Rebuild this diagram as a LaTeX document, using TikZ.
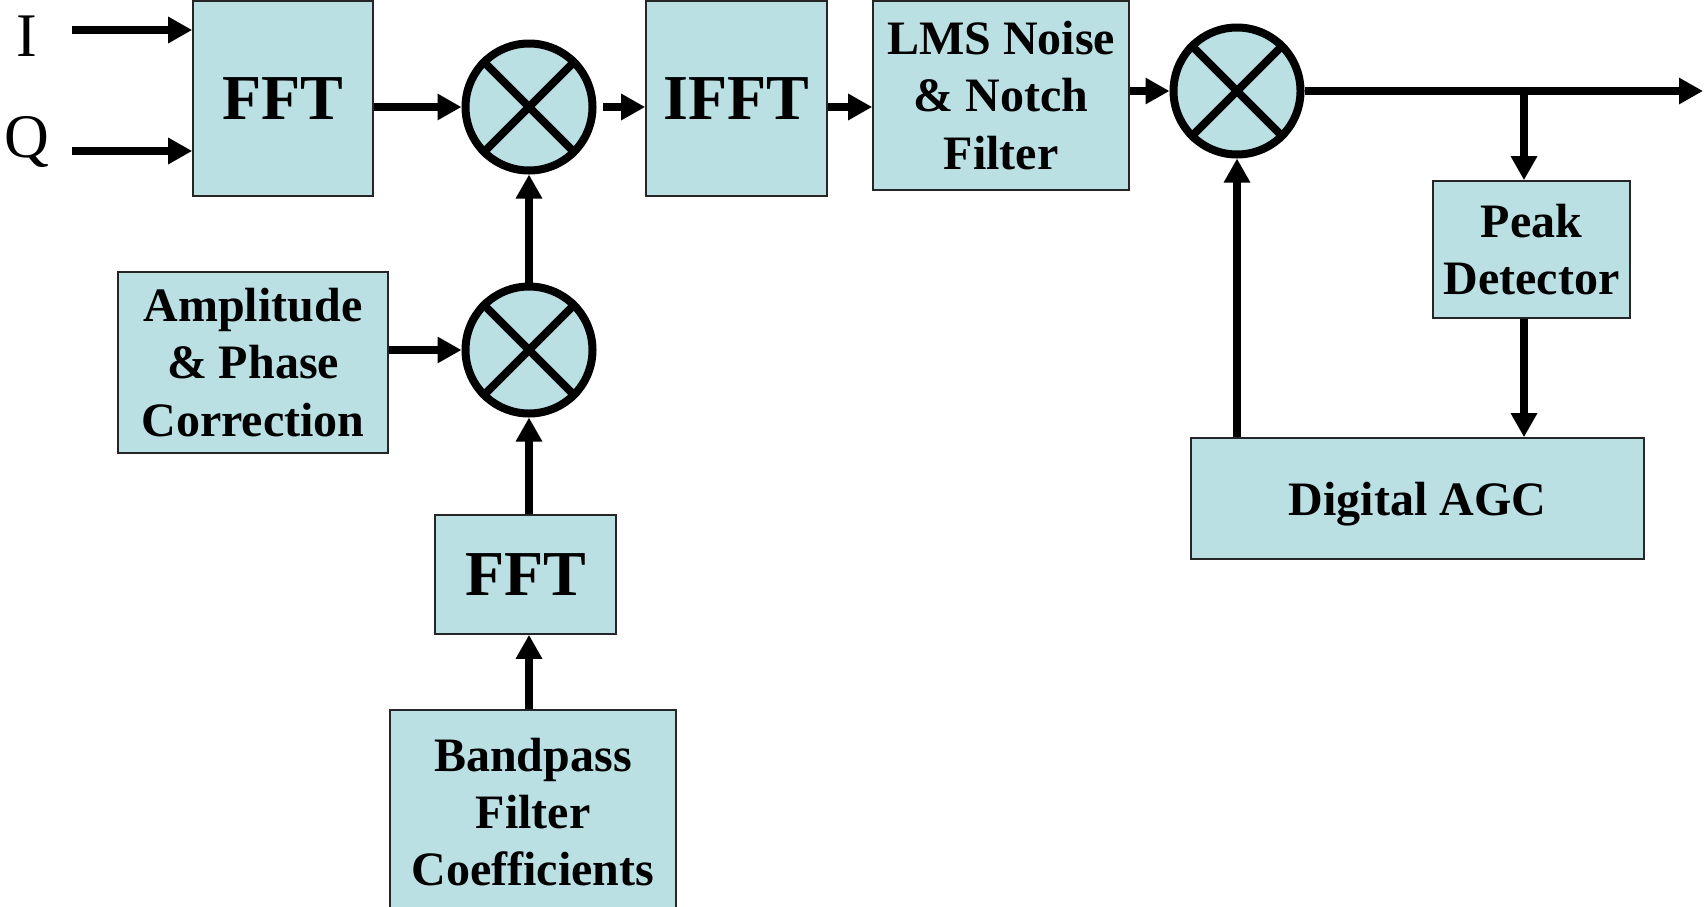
\documentclass[tikz,border=0pt]{standalone}
\usepackage{fontspec}
\setmainfont{Liberation Serif}
\usetikzlibrary{arrows.meta}
\definecolor{boxfill}{RGB}{186,224,228}
\begin{document}
\begin{tikzpicture}[x=0.5pt,y=-0.5pt,
  blk/.style={draw=black!85, line width=0.8pt, fill=boxfill, inner sep=0pt,
    align=center, font=\fontsize{24}{28.6}\selectfont\bfseries},
  bigtext/.style={font=\fontsize{32}{38}\selectfont\bfseries},
  mix/.style={circle, draw=black, line width=4pt, fill=boxfill,
    minimum size=63.5pt, inner sep=0pt},
  flow/.style={line width=4pt, -{Triangle[length=12pt,width=12.5pt]}},
  xline/.style={line width=4pt},
  iolabel/.style={font=\fontsize{31}{34}\selectfont, anchor=base}
]
\useasboundingbox (0,0) rectangle (1706,906);

% processing blocks
\node[blk, bigtext, minimum width=90pt, minimum height=97.5pt] (fft1) at (283,98.5) {FFT};
\node[blk, bigtext, minimum width=90.5pt, minimum height=97.5pt] (ifft) at (736.5,98.5) {IFFT};
\node[blk, minimum width=128pt, minimum height=94.5pt] (lms) at (1001,95.5) {LMS Noise\\\& Notch\\Filter};
\node[blk, minimum width=98.5pt, minimum height=68.5pt] (peak) at (1531.5,249.5) {Peak\\Detector};
\node[blk, minimum width=226.5pt, minimum height=60.5pt, text depth=0pt] (agc) at (1417.5,498.5) {Digital AGC};
\node[blk, minimum width=135pt, minimum height=90.5pt] (amp) at (253,362.5) {Amplitude\\\& Phase\\Correction};
\node[blk, bigtext, minimum width=90.5pt, minimum height=59.5pt] (fft2) at (525.5,574.5) {FFT};
\node[blk, minimum width=143pt, minimum height=102pt] (bpf) at (533,812) {Bandpass\\Filter\\Coefficients};

% multipliers
\foreach \n/\p in {m1/{(529,107)}, m2/{(529,350)}, m3/{(1237,91)}} {
  \node[mix] (\n) at \p {};
  \draw[xline] (\n.north east) -- (\n.south west);
  \draw[xline] (\n.north west) -- (\n.south east);
}

% inputs
\node[iolabel] (ilab) at (27,56) {I};
\node[iolabel] (qlab) at (27,157) {Q};
\coordinate (iin) at (72,30);
\coordinate (qin) at (72,151);
\draw[flow] (iin) -- (iin -| fft1.west);
\draw[flow] (qin) -- (qin -| fft1.west);

% main signal path
\draw[flow] (fft1.east |- m1) -- (m1.west);
\draw[flow, shorten <=3pt] (m1.east) -- (ifft.west |- m1);
\draw[flow] (ifft.east |- m1) -- (lms.west |- m1);
\draw[flow] (lms.east |- m3) -- (m3.west);
\coordinate (out) at (1703,91);
\draw[flow] (m3.east) -- (out);

% filter branch
\draw[flow] (amp.east |- m2) -- (m2.west);
\draw[flow] (m2.north) -- (m1.south);
\draw[flow] (fft2.north -| m2) -- (m2.south);
\draw[flow] (bpf.north -| m2) -- (fft2.south -| m2);

% gain control loop
\coordinate (br) at (1524,91);
\draw[flow] (br) -- (br |- peak.north);
\draw[flow] (peak.south -| br) -- (br |- agc.north);
\draw[flow] (agc.north -| m3) -- (m3.south);
\end{tikzpicture}
\end{document}
